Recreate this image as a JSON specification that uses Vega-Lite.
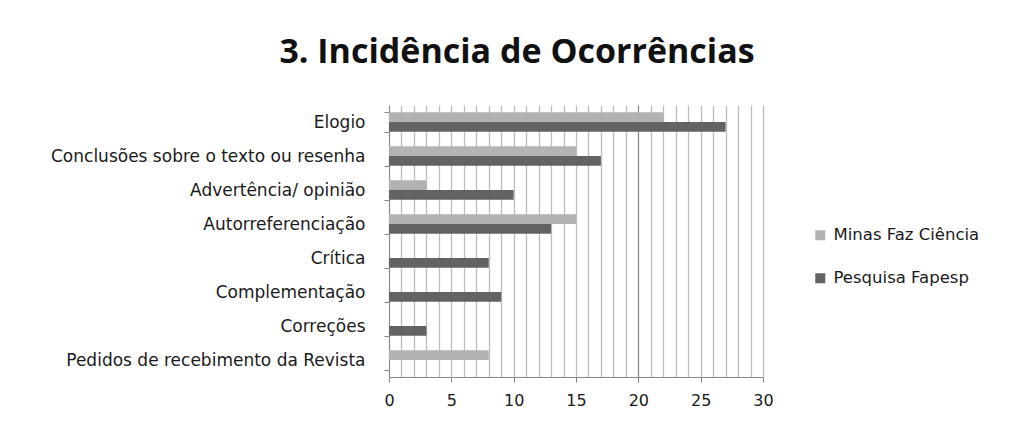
{
  "$schema": "https://vega.github.io/schema/vega-lite/v6.json",
  "width": 374,
  "height": 272,
  "autosize": {"type": "none"},
  "padding": {"left": 389, "top": 105, "right": 249, "bottom": 44},
  "background": "white",
  "title": {
    "text": "3. Incidência de Ocorrências",
    "font": "Open Sans",
    "fontSize": 34,
    "fontWeight": "bold",
    "color": "#111111",
    "anchor": "middle",
    "dx": -59,
    "offset": 26
  },
  "data": {
    "values": [
      {"categoria": "Elogio", "serie": "Minas Faz Ciência", "valor": 22},
      {"categoria": "Elogio", "serie": "Pesquisa Fapesp", "valor": 27},
      {"categoria": "Conclusões sobre o texto ou resenha", "serie": "Minas Faz Ciência", "valor": 15},
      {"categoria": "Conclusões sobre o texto ou resenha", "serie": "Pesquisa Fapesp", "valor": 17},
      {"categoria": "Advertência/ opinião", "serie": "Minas Faz Ciência", "valor": 3},
      {"categoria": "Advertência/ opinião", "serie": "Pesquisa Fapesp", "valor": 10},
      {"categoria": "Autorreferenciação", "serie": "Minas Faz Ciência", "valor": 15},
      {"categoria": "Autorreferenciação", "serie": "Pesquisa Fapesp", "valor": 13},
      {"categoria": "Crítica", "serie": "Minas Faz Ciência", "valor": 0},
      {"categoria": "Crítica", "serie": "Pesquisa Fapesp", "valor": 8},
      {"categoria": "Complementação", "serie": "Minas Faz Ciência", "valor": 0},
      {"categoria": "Complementação", "serie": "Pesquisa Fapesp", "valor": 9},
      {"categoria": "Correções", "serie": "Minas Faz Ciência", "valor": 0},
      {"categoria": "Correções", "serie": "Pesquisa Fapesp", "valor": 3},
      {"categoria": "Pedidos de recebimento da Revista", "serie": "Minas Faz Ciência", "valor": 8},
      {"categoria": "Pedidos de recebimento da Revista", "serie": "Pesquisa Fapesp", "valor": 0}
    ]
  },
  "mark": {"type": "bar", "cornerRadius": 0},
  "encoding": {
    "y": {
      "field": "categoria",
      "type": "nominal",
      "sort": null,
      "scale": {"paddingInner": 0.43, "paddingOuter": 0.215},
      "axis": {
        "title": null,
        "tickBand": "extent",
        "tickSize": 5,
        "tickColor": "#888888",
        "domainColor": "#888888",
        "labelFont": "DejaVu Sans",
        "labelFontSize": 17,
        "labelColor": "#1a1a1a",
        "labelPadding": 19,
        "labelLimit": 400,
        "grid": false
      }
    },
    "yOffset": {"field": "serie", "type": "nominal", "sort": ["Minas Faz Ciência", "Pesquisa Fapesp"]},
    "x": {
      "field": "valor",
      "type": "quantitative",
      "scale": {"domain": [0, 30], "nice": false},
      "axis": {
        "title": null,
        "values": [0,1,2,3,4,5,6,7,8,9,10,11,12,13,14,15,16,17,18,19,20,21,22,23,24,25,26,27,28,29,30],
        "labelExpr": "datum.value % 5 === 0 ? datum.label : ''",
        "grid": true,
        "gridColor": {"condition": {"test": "datum.value === 20", "value": "#8c8c8c"}, "value": "#bdbdbd"},
        "gridWidth": 1.3,
        "tickOpacity": {"condition": {"test": "datum.value % 5 === 0", "value": 1}, "value": 0},
        "tickColor": "#888888",
        "tickSize": 5,
        "domainColor": "#888888",
        "labelFont": "DejaVu Sans",
        "labelFontSize": 16,
        "labelColor": "#1a1a1a",
        "labelPadding": 10,
        "labelFlush": false
      }
    },
    "color": {
      "field": "serie",
      "type": "nominal",
      "scale": {"domain": ["Minas Faz Ciência", "Pesquisa Fapesp"], "range": ["#b2b2b2", "#636363"]},
      "legend": {
        "title": null,
        "orient": "none",
        "legendX": 423,
        "legendY": 122,
        "symbolType": "square",
        "symbolSize": 100,
        "symbolStrokeWidth": 0,
        "rowPadding": 26,
        "labelFont": "DejaVu Sans",
        "labelFontSize": 16.5,
        "labelColor": "#1a1a1a",
        "labelOffset": 5
      }
    }
  },
  "config": {"view": {"stroke": null}}
}
